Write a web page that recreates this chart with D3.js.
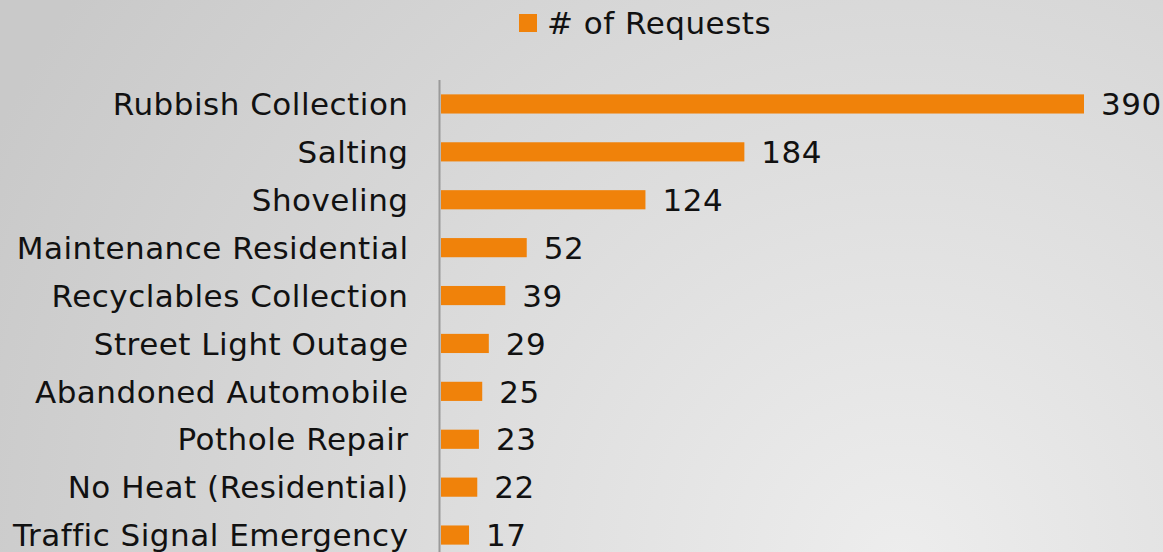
<!DOCTYPE html>
<html>
<head>
<meta charset="utf-8">
<script src="https://cdn.jsdelivr.net/npm/d3@7"></script>
<style>
  body { margin: 0; }
  svg { display: block; font-family: "DejaVu Sans", Verdana, sans-serif; }
</style>
</head>
<body>
<div id="chart"></div>
<script>
// Data
var categories = ["Rubbish Collection", "Salting", "Shoveling", "Maintenance Residential",
  "Recyclables Collection", "Street Light Outage", "Abandoned Automobile",
  "Pothole Repair", "No Heat (Residential)", "Traffic Signal Emergency"]
var requests = [390, 184, 124, 52, 39, 29, 25, 23, 22, 17]
var seriesName = "# of Requests"

var W = 1163, H = 552
var x0 = 441
var fs = 31, ls = 0.5

var svg = d3.select('#chart').append('svg')
  .attr("width", W)
  .attr("height", H)

// background gradient
var defs = svg.append("defs")
var grad = defs.append("radialGradient")
  .attr("id", "bg")
  .attr("gradientUnits", "userSpaceOnUse")
  .attr("cx", 900).attr("cy", 560).attr("r", 1000)
grad.append("stop").attr("offset", "0").attr("stop-color", "#ededed")
grad.append("stop").attr("offset", "1").attr("stop-color", "#c9c9c9")
svg.append("rect").attr("width", W).attr("height", H).attr("fill", "url(#bg)")

// Scales
var xScale = d3.scaleLinear()
  .domain([0, 390])
  .range([x0, 1084])

var yScale = d3.scaleBand()
  .domain(categories)
  .range([80, 80 + 47.9 * categories.length])
  .paddingInner(0.6)
  .paddingOuter(0.3)

// Bars
svg.selectAll("rect.bar")
  .data(requests)
  .enter().append("rect")
  .attr("class", "bar")
  .attr("x", xScale(0))
  .attr("y", function(d, i) { return yScale(categories[i]) })
  .attr("width", function(d) { return xScale(d) - xScale(0) })
  .attr("height", yScale.bandwidth())
  .attr("fill", "#f0820a")

// Value labels
svg.selectAll("text.val")
  .data(requests)
  .enter().append("text")
  .attr("class", "val")
  .attr("x", function(d) { return xScale(d) + 17 })
  .attr("y", function(d, i) { return yScale(categories[i]) + yScale.bandwidth() / 2 })
  .attr("dy", "0.36em")
  .attr("font-size", fs)
  .attr("letter-spacing", ls)
  .attr("fill", "#111")
  .text(function(d) { return d })

// Y axis
var yAxis = svg.append('g')
  .attr('transform', 'translate(' + (x0 - 1.5) + ',0)')
  .call(d3.axisLeft(yScale).tickSize(0).tickPadding(31))
yAxis.select(".domain").attr("stroke", "#9a9a9a").attr("stroke-width", 2)
  .attr("d", "M0,80V" + H)
yAxis.selectAll("text")
  .attr("font-size", fs)
  .attr("letter-spacing", ls)
  .attr("font-family", "DejaVu Sans, Verdana, sans-serif")
  .attr("fill", "#111")
  .attr("dy", "0.36em")

// Legend
var legend = svg.append("g").attr("transform", "translate(519,14)")
legend.append("rect").attr("width", 18).attr("height", 18).attr("fill", "#f0820a")
legend.append("text")
  .attr("x", 28).attr("y", 9).attr("dy", "0.36em")
  .attr("font-size", fs)
  .attr("letter-spacing", ls)
  .attr("fill", "#111")
  .text(seriesName)
</script>
</body>
</html>
